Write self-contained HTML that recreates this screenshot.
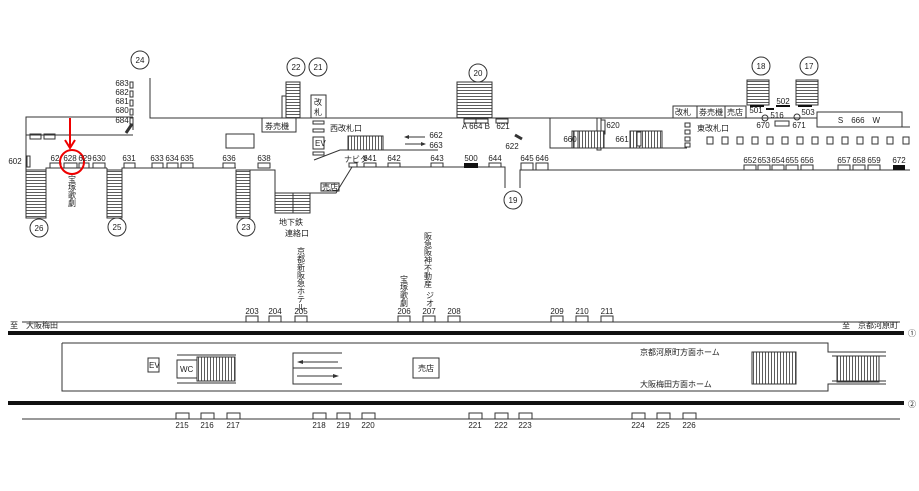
<!DOCTYPE html>
<html><head><meta charset="utf-8"><style>
body{margin:0;background:#fff}
svg{display:block}
text{font-family:"Liberation Sans","Noto Sans CJK JP",sans-serif;font-size:8px;fill:#222}
</style></head><body>
<svg width="919" height="491" viewBox="0 0 919 491" xmlns="http://www.w3.org/2000/svg">
<defs>
<pattern id="h" width="4" height="3" patternUnits="userSpaceOnUse"><rect width="4" height="3" fill="#fff"/><line x1="0" y1="0.5" x2="4" y2="0.5" stroke="#333" stroke-width="0.8"/></pattern>
<pattern id="v" width="3" height="4" patternUnits="userSpaceOnUse"><rect width="3" height="4" fill="#fff"/><line x1="0.5" y1="0" x2="0.5" y2="4" stroke="#333" stroke-width="0.8"/></pattern>
</defs>
<g fill="none" stroke="#333" stroke-width="1">
<circle cx="140" cy="60" r="9"/><circle cx="296" cy="67" r="9"/><circle cx="318" cy="67" r="9"/>
<circle cx="478" cy="73" r="9"/><circle cx="761" cy="66" r="9"/><circle cx="809" cy="66" r="9"/>
<circle cx="39" cy="228" r="9"/><circle cx="117" cy="227" r="9"/><circle cx="246" cy="227" r="9"/><circle cx="513" cy="200" r="9"/>
<polyline points="26,218 26,117 133,117"/>
<line x1="26" y1="135" x2="133" y2="135"/>
<line x1="133" y1="117" x2="133" y2="130"/>
<polyline points="150,78 150,118 270,118"/>
<rect x="30" y="134" width="11" height="5"/><rect x="44" y="134" width="11" height="5"/>
<line x1="126" y1="133" x2="132" y2="124" stroke-width="3"/>
<rect x="130" y="82" width="3" height="6"/><rect x="130" y="91" width="3" height="6"/><rect x="130" y="100" width="3" height="6"/><rect x="130" y="109" width="3" height="6"/><rect x="130" y="118" width="3" height="6"/>
<rect x="27" y="156" width="3" height="11"/>
<polyline points="46,218 46,168 107,168"/>
<rect x="26" y="170" width="20" height="48" fill="url(#h)"/>
<rect x="107" y="170" width="15" height="48" fill="url(#h)"/>
<polyline points="107,218 107,168"/>
<polyline points="122,218 122,168 236,168"/>
<rect x="236" y="170" width="14" height="48" fill="url(#h)"/>
<polyline points="250,218 250,170 275,170 275,209"/>
<rect x="275" y="193" width="35" height="20" fill="url(#h)"/>
<line x1="293" y1="193" x2="293" y2="213"/>
<polyline points="310,213 310,193 336,193 352,167 505,167 505,188"/>
<polyline points="520,188 520,170 910,170"/>
<rect x="226" y="134" width="28" height="14"/>
<rect x="286" y="82" width="14" height="36" fill="url(#h)"/>
<polyline points="282,118 282,96 286,96"/>
<rect x="262" y="118" width="34" height="14"/>
<rect x="311" y="95" width="15" height="23"/>
<line x1="270" y1="118" x2="458" y2="118"/>
<rect x="313" y="121" width="11" height="3"/><rect x="313" y="129" width="11" height="3"/><rect x="313" y="137" width="11" height="12"/><rect x="313" y="152" width="11" height="3"/>
<polyline points="314,160 340,150 438,150"/>
<rect x="348" y="136" width="35" height="14" fill="url(#v)"/>
<rect x="597" y="118" width="4" height="32"/>
<rect x="601" y="120" width="4" height="14"/>
<rect x="457" y="82" width="35" height="36" fill="url(#h)"/>
<line x1="492" y1="118" x2="550" y2="118"/>
<rect x="464" y="119" width="12" height="4"/><rect x="476" y="119" width="12" height="4"/>
<rect x="496" y="119" width="12" height="4"/>
<line x1="515" y1="135" x2="522" y2="139" stroke-width="3"/>
<polyline points="550,118 550,148 687,148"/>
<line x1="550" y1="118" x2="673" y2="118"/>
<rect x="572" y="131" width="32" height="17" fill="url(#v)"/>
<rect x="630" y="131" width="32" height="17" fill="url(#v)"/>
<rect x="574" y="131" width="4" height="17" fill="#fff"/><rect x="637" y="132" width="4" height="14" fill="#fff"/>
<rect x="685" y="123" width="5" height="4"/><rect x="685" y="130" width="5" height="4"/><rect x="685" y="137" width="5" height="4"/><rect x="685" y="143" width="5" height="4"/>
<rect x="673" y="106" width="24" height="12"/><rect x="697" y="106" width="28" height="12"/><rect x="725" y="106" width="21" height="12"/>
<line x1="746" y1="118" x2="817" y2="118"/>
<rect x="747" y="80" width="22" height="25" fill="url(#h)"/>
<rect x="796" y="80" width="22" height="25" fill="url(#h)"/>
<rect x="817" y="112" width="85" height="15"/>
<line x1="902" y1="127" x2="910" y2="127"/>
<circle cx="765" cy="118" r="3"/><circle cx="797" cy="117" r="3"/>
<rect x="775" y="121" width="14" height="5"/>
</g>
<g fill="#111">
<rect x="750" y="105" width="14" height="2"/><rect x="766" y="108" width="8" height="2"/><rect x="776" y="105" width="14" height="2"/><rect x="798" y="105" width="14" height="2"/>
</g>
<g fill="none" stroke="#333" stroke-width="1">
<rect x="707" y="137" width="6" height="7"/><rect x="722" y="137" width="6" height="7"/><rect x="737" y="137" width="6" height="7"/><rect x="752" y="137" width="6" height="7"/><rect x="767" y="137" width="6" height="7"/><rect x="782" y="137" width="6" height="7"/><rect x="797" y="137" width="6" height="7"/><rect x="812" y="137" width="6" height="7"/><rect x="827" y="137" width="6" height="7"/><rect x="842" y="137" width="6" height="7"/><rect x="857" y="137" width="6" height="7"/><rect x="872" y="137" width="6" height="7"/><rect x="887" y="137" width="6" height="7"/><rect x="903" y="137" width="6" height="7"/>
<rect x="50" y="163" width="11" height="5"/><rect x="64" y="163" width="13" height="5"/><rect x="79" y="163" width="10" height="5"/><rect x="93" y="163" width="12" height="5"/>
<rect x="124" y="163" width="11" height="5"/><rect x="152" y="163" width="11" height="5"/><rect x="167" y="163" width="11" height="5"/><rect x="181" y="163" width="12" height="5"/>
<rect x="223" y="163" width="12" height="5"/><rect x="258" y="163" width="12" height="5"/>
<rect x="349" y="163" width="8" height="4"/><rect x="364" y="163" width="12" height="4"/><rect x="388" y="163" width="12" height="4"/><rect x="431" y="163" width="12" height="4"/><rect x="489" y="163" width="12" height="4"/>
<rect x="521" y="163" width="12" height="7"/><rect x="536" y="163" width="12" height="7"/>
<rect x="744" y="165" width="12" height="5"/><rect x="758" y="165" width="12" height="5"/><rect x="772" y="165" width="12" height="5"/><rect x="786" y="165" width="12" height="5"/><rect x="801" y="165" width="12" height="5"/>
<rect x="838" y="165" width="12" height="5"/><rect x="853" y="165" width="12" height="5"/><rect x="868" y="165" width="12" height="5"/>
<rect x="321" y="183" width="18" height="8"/>
</g>
<rect x="464" y="163" width="14" height="5" fill="#111"/><rect x="893" y="165" width="12" height="5" fill="#111"/>
<g stroke="#333" stroke-width="1"><line x1="405" y1="137" x2="425" y2="137"/><line x1="405" y1="144" x2="425" y2="144"/></g>
<polygon points="404,137 409,135 409,139" fill="#333"/><polygon points="426,144 421,142 421,146" fill="#333"/>
<circle cx="72" cy="162" r="12" fill="none" stroke="#e00" stroke-width="2"/>
<line x1="70" y1="118" x2="70" y2="146" stroke="#e00" stroke-width="2"/>
<polyline points="65,140 70,148 75,140" fill="none" stroke="#e00" stroke-width="2"/>
<g text-anchor="middle">
<text x="140" y="63">24</text><text x="296" y="70">22</text><text x="318" y="70">21</text><text x="478" y="76">20</text><text x="761" y="69">18</text><text x="809" y="69">17</text>
<text x="39" y="231">26</text><text x="117" y="230">25</text><text x="246" y="230">23</text><text x="513" y="203">19</text>
<text x="122" y="86">683</text><text x="122" y="95">682</text><text x="122" y="104">681</text><text x="122" y="113">680</text><text x="122" y="123">684</text>
<text x="15" y="164">602</text>
<text x="55" y="161">62</text><text x="70" y="161">628</text><text x="85" y="161">629</text><text x="99" y="161">630</text><text x="129" y="161">631</text>
<text x="157" y="161">633</text><text x="172" y="161">634</text><text x="187" y="161">635</text><text x="229" y="161">636</text><text x="264" y="161">638</text>
<text x="370" y="161">641</text><text x="394" y="161">642</text><text x="437" y="161">643</text><text x="471" y="161">500</text><text x="495" y="161">644</text><text x="527" y="161">645</text><text x="542" y="161">646</text>
<text x="750" y="163">652</text><text x="764" y="163">653</text><text x="778" y="163">654</text><text x="792" y="163">655</text><text x="807" y="163">656</text>
<text x="844" y="163">657</text><text x="859" y="163">658</text><text x="874" y="163">659</text><text x="899" y="163">672</text>
<text x="436" y="138">662</text><text x="436" y="148">663</text><text x="613" y="128">620</text><text x="476" y="129">A 664 B</text><text x="503" y="129">621</text><text x="512" y="149">622</text>
<text x="570" y="142">660</text><text x="622" y="142">661</text>
<text x="756" y="113">501</text><text x="783" y="104">502</text><text x="777" y="118">516</text><text x="808" y="115">503</text><text x="763" y="128">670</text><text x="799" y="128">671</text>
<text x="859" y="123">S　666　W</text>
</g>
<g>
<text x="265" y="129">券売機</text><text x="330" y="131">西改札口</text><text x="315" y="146" font-size="7">EV</text>
<text x="344" y="162" font-size="6">ナビタ</text><text x="322" y="190" font-size="6">売店</text>
<text x="697" y="131">東改札口</text>
<text x="675" y="115">改札</text><text x="699" y="115">券売機</text><text x="727" y="115">売店</text>
<text x="279" y="225">地下鉄</text><text x="285" y="236">連絡口</text>
<text x="314" y="105">改</text><text x="314" y="115">札</text>
</g>
<g font-size="7" text-anchor="middle">
<text x="72" y="182">宝</text><text x="72" y="190">塚</text><text x="72" y="198">歌</text><text x="72" y="206">劇</text>
<text x="301" y="254">京</text><text x="301" y="262">都</text><text x="301" y="270">新</text><text x="301" y="278">阪</text><text x="301" y="286">急</text><text x="301" y="294">ホ</text><text x="301" y="302">テ</text><text x="301" y="310">ル</text>
<text x="404" y="282">宝</text><text x="404" y="290">塚</text><text x="404" y="298">歌</text><text x="404" y="306">劇</text>
<text x="428" y="239">阪</text><text x="428" y="247">急</text><text x="428" y="255">阪</text><text x="428" y="263">神</text><text x="428" y="271">不</text><text x="428" y="279">動</text><text x="428" y="287">産</text>
<text x="430" y="298">ジ</text><text x="430" y="306">オ</text>
</g>
<g fill="none" stroke="#333" stroke-width="1">
<line x1="22" y1="322" x2="900" y2="322"/>
<rect x="246" y="316" width="12" height="6"/><rect x="269" y="316" width="12" height="6"/><rect x="295" y="316" width="12" height="6"/>
<rect x="398" y="316" width="12" height="6"/><rect x="423" y="316" width="12" height="6"/><rect x="448" y="316" width="12" height="6"/>
<rect x="551" y="316" width="12" height="6"/><rect x="576" y="316" width="12" height="6"/><rect x="601" y="316" width="12" height="6"/>
<polyline points="62,343 828,343 828,352 886,352"/>
<polyline points="62,343 62,391 828,391 828,384 886,384"/>
<rect x="148" y="358" width="11" height="14"/>
<rect x="177" y="360" width="20" height="18"/>
<line x1="177" y1="355" x2="236" y2="355"/><line x1="177" y1="383" x2="236" y2="383"/>
<rect x="197" y="357" width="38" height="24" fill="url(#v)"/>
<polyline points="342,353 293,353 293,384 342,384"/><line x1="293" y1="368" x2="342" y2="368"/>
<rect x="413" y="358" width="26" height="20"/>
<rect x="752" y="352" width="44" height="32" fill="url(#v)"/>
<rect x="837" y="356" width="42" height="26" fill="url(#v)"/>
<line x1="832" y1="356" x2="886" y2="356"/><line x1="832" y1="381" x2="886" y2="381"/>
<line x1="22" y1="419" x2="900" y2="419"/>
<rect x="176" y="413" width="13" height="6"/><rect x="201" y="413" width="13" height="6"/><rect x="227" y="413" width="13" height="6"/>
<rect x="313" y="413" width="13" height="6"/><rect x="337" y="413" width="13" height="6"/><rect x="362" y="413" width="13" height="6"/>
<rect x="469" y="413" width="13" height="6"/><rect x="495" y="413" width="13" height="6"/><rect x="519" y="413" width="13" height="6"/>
<rect x="632" y="413" width="13" height="6"/><rect x="657" y="413" width="13" height="6"/><rect x="683" y="413" width="13" height="6"/>
<line x1="302" y1="362" x2="338" y2="362"/><line x1="297" y1="376" x2="334" y2="376"/>
</g>
<polygon points="297,362 303,360 303,364" fill="#333"/><polygon points="339,376 333,374 333,378" fill="#333"/>
<rect x="8" y="331" width="896" height="4" fill="#111"/>
<rect x="8" y="401" width="896" height="4" fill="#111"/>
<g text-anchor="middle">
<text x="252" y="314">203</text><text x="275" y="314">204</text><text x="301" y="314">205</text><text x="404" y="314">206</text><text x="429" y="314">207</text><text x="454" y="314">208</text>
<text x="557" y="314">209</text><text x="582" y="314">210</text><text x="607" y="314">211</text>
<text x="182" y="428">215</text><text x="207" y="428">216</text><text x="233" y="428">217</text><text x="319" y="428">218</text><text x="343" y="428">219</text><text x="368" y="428">220</text>
<text x="475" y="428">221</text><text x="501" y="428">222</text><text x="525" y="428">223</text><text x="638" y="428">224</text><text x="663" y="428">225</text><text x="689" y="428">226</text>
</g>
<g>
<text x="10" y="328">至　大阪梅田</text><text x="842" y="328">至　京都河原町</text>
<text x="908" y="336">①</text><text x="908" y="407">②</text>
<text x="149" y="368" font-size="7">EV</text><text x="180" y="372">WC</text><text x="418" y="371">売店</text>
<text x="640" y="355">京都河原町方面ホーム</text><text x="640" y="387">大阪梅田方面ホーム</text>
</g>
</svg>
</body></html>
